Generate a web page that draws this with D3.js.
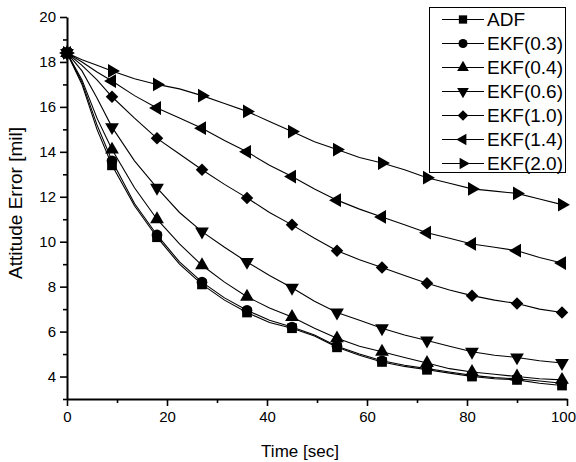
<!DOCTYPE html>
<html>
<head>
<meta charset="utf-8">
<script src="https://cdn.jsdelivr.net/npm/d3@7"></script>
<style>
  body { margin: 0; background: #fff; }
  text { font-family: "Liberation Sans", Arial, sans-serif; fill: #000; }
</style>
</head>
<body>
<div class="chart"></div>
<script>
var svgWidth = 576;
var svgHeight = 462;

var margin = { top: 17, right: 9, bottom: 63, left: 67 };
var width = svgWidth - margin.left - margin.right;
var height = svgHeight - margin.top - margin.bottom;

// sample times (markers sit every 9 sec)
var times = [0, 3, 6, 9, 13.5, 18, 22.5, 27, 31.5, 36, 40.5, 45, 49.5, 54,
  58.5, 63, 67.5, 72, 76.5, 81, 85.5, 90, 94.5, 99];

var seriesNames = ["ADF", "EKF(0.3)", "EKF(0.4)", "EKF(0.6)", "EKF(1.0)", "EKF(1.4)", "EKF(2.0)"];

var adf = [18.4, 17.0, 15.0, 13.4, 11.6, 10.2, 9.0, 8.1, 7.4, 6.85, 6.4, 6.15, 5.8, 5.3,
  4.95, 4.65, 4.45, 4.3, 4.15, 4.0, 3.9, 3.85, 3.7, 3.6];
var ekf03 = [18.4, 17.1, 15.2, 13.6, 11.7, 10.3, 9.1, 8.2, 7.5, 6.95, 6.5, 6.2, 5.85, 5.35,
  5.0, 4.7, 4.5, 4.35, 4.2, 4.05, 3.95, 3.9, 3.8, 3.7];
var ekf04 = [18.4, 17.2, 15.5, 14.1, 12.4, 11.0, 9.9, 8.95, 8.2, 7.55, 7.05, 6.65, 6.15, 5.7,
  5.35, 5.1, 4.85, 4.6, 4.35, 4.2, 4.1, 4.0, 3.9, 3.85];
var ekf06 = [18.4, 17.6, 16.4, 15.1, 13.6, 12.4, 11.3, 10.45, 9.75, 9.1, 8.5, 7.95, 7.35, 6.85,
  6.5, 6.15, 5.85, 5.6, 5.35, 5.1, 4.95, 4.85, 4.7, 4.6];
var ekf10 = [18.4, 17.85, 17.2, 16.45, 15.5, 14.6, 13.9, 13.2, 12.55, 11.95, 11.3, 10.75, 10.15, 9.6,
  9.2, 8.85, 8.5, 8.15, 7.85, 7.6, 7.4, 7.25, 7.0, 6.85];
var ekf14 = [18.4, 18.0, 17.55, 17.15, 16.5, 15.95, 15.5, 15.05, 14.5, 14.0, 13.4, 12.9, 12.35, 11.85,
  11.45, 11.1, 10.75, 10.4, 10.15, 9.9, 9.75, 9.6, 9.3, 9.05];
var ekf20 = [18.4, 18.1, 17.85, 17.6, 17.25, 17.0, 16.8, 16.5, 16.15, 15.8, 15.35, 14.9, 14.45, 14.1,
  13.75, 13.5, 13.2, 12.85, 12.6, 12.35, 12.25, 12.15, 11.9, 11.65];

var xTicks = [0, 20, 40, 60, 80, 100];
var xMinorTicks = [10, 30, 50, 70, 90];
var yTicks = [4, 6, 8, 10, 12, 14, 16, 18, 20];
var yMinorTicks = [3, 5, 7, 9, 11, 13, 15, 17, 19];

var allValues = [adf, ekf03, ekf04, ekf06, ekf10, ekf14, ekf20];

// marker shape for each series
var markerTypes = ["square", "circle", "up", "down", "diamond", "left", "right"];

function markerPath(type) {
  if (type === "square") return { d: d3.symbol(d3.symbolSquare, 95)(), rot: 0 };
  if (type === "circle") return { d: d3.symbol(d3.symbolCircle, 90)(), rot: 0 };
  if (type === "diamond") return { d: d3.symbol(d3.symbolSquare, 78)(), rot: 45 };
  var tri = d3.symbol(d3.symbolTriangle, 82)();
  var rot = { up: 0, down: 180, left: -90, right: 90 }[type];
  return { d: tri, rot: rot };
}

var svg = d3
  .select(".chart")
  .append("svg")
  .attr("width", svgWidth)
  .attr("height", svgHeight);

var chartGroup = svg.append("g")
  .attr("transform", `translate(${margin.left}, ${margin.top})`);

var xLinearScale = d3.scaleLinear().domain([0, 100]).range([0, width]);
var yLinearScale = d3.scaleLinear().domain([3, 20]).range([height, 0]);

// minor ticks first
chartGroup.append("g")
  .attr("transform", `translate(0, ${height})`)
  .call(d3.axisBottom(xLinearScale).tickValues(xMinorTicks).tickSize(4).tickFormat(""))
  .call(g => g.select(".domain").remove());
chartGroup.append("g")
  .call(d3.axisLeft(yLinearScale).tickValues(yMinorTicks).tickSize(4).tickFormat(""))
  .call(g => g.select(".domain").remove());

var xAxis = chartGroup.append("g")
  .attr("transform", `translate(0, ${height})`)
  .call(d3.axisBottom(xLinearScale).tickValues(xTicks).tickSize(7).tickSizeOuter(0).tickPadding(5));

var yAxis = chartGroup.append("g")
  .call(d3.axisLeft(yLinearScale).tickValues(yTicks).tickSize(7).tickSizeOuter(0).tickPadding(4));

svg.selectAll(".tick line").attr("stroke", "#000").attr("stroke-width", 1.6);
svg.selectAll(".domain").attr("stroke", "#000").attr("stroke-width", 2);
svg.selectAll(".tick text").style("font-size", "15px").attr("fill", "#000");

// keep the last x label inside the window
xAxis.selectAll(".tick text").filter(d => d === 100).attr("dx", "-4");

// series lines
var line = d3.line()
  .x((d, i) => xLinearScale(times[i]))
  .y(d => yLinearScale(d));

allValues.forEach(function(vals, k) {
  chartGroup.append("path")
    .datum(vals)
    .attr("fill", "none")
    .attr("stroke", "#000")
    .attr("stroke-width", 1.1)
    .attr("d", line);
});

// markers every 9 sec
allValues.forEach(function(vals, k) {
  var m = markerPath(markerTypes[k]);
  var pts = vals.map((v, i) => ({ t: times[i], v: v })).filter(p => p.t % 9 === 0);
  chartGroup.selectAll(".m" + k)
    .data(pts)
    .enter()
    .append("path")
    .attr("d", m.d)
    .attr("transform", d => `translate(${xLinearScale(d.t)}, ${yLinearScale(d.v)}) rotate(${m.rot})`)
    .attr("fill", "#000");
});

// legend
var legend = svg.append("g");
legend.append("rect")
  .attr("x", 429.5).attr("y", 7.5)
  .attr("width", 136).attr("height", 165)
  .attr("fill", "#fff")
  .attr("stroke", "#000")
  .attr("stroke-width", 1);

seriesNames.forEach(function(name, k) {
  var cy = 19.5 + 24 * k;
  legend.append("line")
    .attr("x1", 442).attr("x2", 484)
    .attr("y1", cy).attr("y2", cy)
    .attr("stroke", "#000").attr("stroke-width", 1.1);
  var m = markerPath(markerTypes[k]);
  legend.append("path")
    .attr("d", m.d)
    .attr("transform", `translate(463, ${cy}) rotate(${m.rot}) scale(0.85)`)
    .attr("fill", "#000");
  legend.append("text")
    .attr("x", 487)
    .attr("y", cy)
    .attr("dy", "0.36em")
    .style("font-size", "19px")
    .text(name);
});

// axis titles
svg.append("text")
  .attr("x", margin.left + width / 2 - 17)
  .attr("y", 457)
  .attr("text-anchor", "middle")
  .style("font-size", "17px")
  .text("Time [sec]");

svg.append("text")
  .attr("transform", "rotate(-90)")
  .attr("x", -203)
  .attr("y", 22)
  .attr("text-anchor", "middle")
  .style("font-size", "19px")
  .text("Attitude Error [mil]");
</script>
</body>
</html>
